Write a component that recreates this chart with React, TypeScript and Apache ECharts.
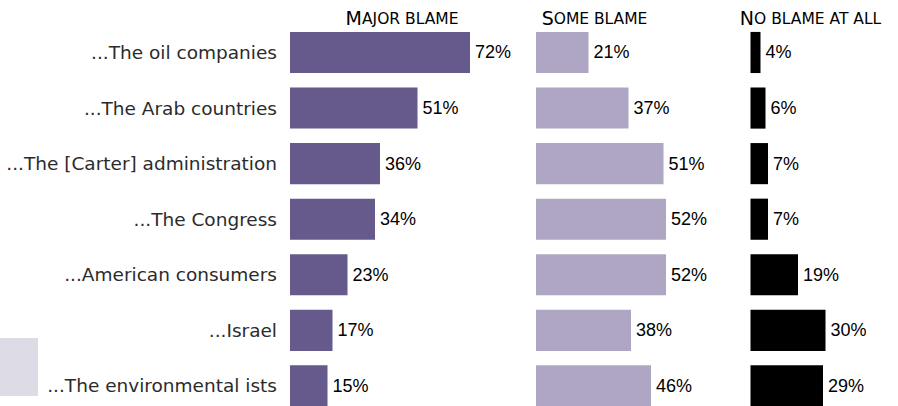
import React, { useEffect, useRef } from "react";
import * as echarts from "echarts";

const categories = [
  "...The oil companies",
  "...The Arab countries",
  "...The [Carter] administration",
  "...The Congress",
  "...American consumers",
  "...Israel",
  "...The environmental ists",
];
const majorBlame = [72, 51, 36, 34, 23, 17, 15];
const someBlame = [21, 37, 51, 52, 52, 38, 46];
const noBlame = [4, 6, 7, 7, 19, 30, 29];

const PX = 2.5;
const TOP = 24.7;
const HEIGHT = 389;

export default function App() {
  const ref = useRef<HTMLDivElement>(null);
  useEffect(() => {
    const chart = echarts.init(ref.current!, null, { renderer: "svg" });
    const panels = [
      { left: 290, max: 80, data: majorBlame, color: "#655a8b" },
      { left: 536, max: 60, data: someBlame, color: "#afa6c4" },
      { left: 750.5, max: 40, data: noBlame, color: "#000000" },
    ];
    const headStyle = {
      rich: {
        big: { fontSize: 19, fontFamily: "DejaVu Sans", fill: "#000", verticalAlign: "bottom", lineHeight: 20 },
        small: { fontSize: 15.5, fontFamily: "DejaVu Sans", fill: "#000", verticalAlign: "bottom", lineHeight: 20 },
      },
    };
    const header = (txt: string, x: number) => ({
      type: "text",
      x,
      y: 17,
      style: {
        text: txt,
        align: "center",
        verticalAlign: "middle",
        ...headStyle,
      },
    });
    chart.setOption({
      animation: false,
      grid: panels.map((p) => ({
        left: p.left,
        top: TOP,
        height: HEIGHT,
        width: p.max * PX,
        containLabel: false,
        outerBoundsMode: "none",
      })),
      xAxis: panels.map((p, i) => ({
        type: "value",
        gridIndex: i,
        min: 0,
        max: p.max,
        show: false,
      })),
      yAxis: panels.map((p, i) => ({
        type: "category",
        gridIndex: i,
        data: categories,
        inverse: true,
        axisLine: { show: false },
        axisTick: { show: false },
        splitLine: { show: false },
        axisLabel: {
          show: i === 0,
          margin: 13,
          fontSize: 18.5,
          fontFamily: "DejaVu Sans",
          color: "#2b2b2b",
        },
      })),
      series: panels.map((p, i) => ({
        type: "bar",
        xAxisIndex: i,
        yAxisIndex: i,
        data: p.data,
        barCategoryGap: "26%",
        itemStyle: { color: p.color },
        label: {
          show: true,
          position: "right",
          distance: 5,
          formatter: "{c}%",
          fontSize: 18,
          fontFamily: "Liberation Sans",
          color: "#000",
        },
      })),
      graphic: [
        {
          type: "rect",
          shape: { x: 0, y: 338, width: 38, height: 58 },
          style: { fill: "#dddbe6" },
        },
        header("{big|M}{small|AJOR BLAME}", 402),
        header("{big|S}{small|OME BLAME}", 594.5),
        header("{big|N}{small|O BLAME AT ALL}", 810.5),
      ],
    });
    return () => chart.dispose();
  }, []);
  return (
    <div
      ref={ref}
      style={{ position: "fixed", left: 0, top: 0, width: 898, height: 406, background: "#fff" }}
    />
  );
}
